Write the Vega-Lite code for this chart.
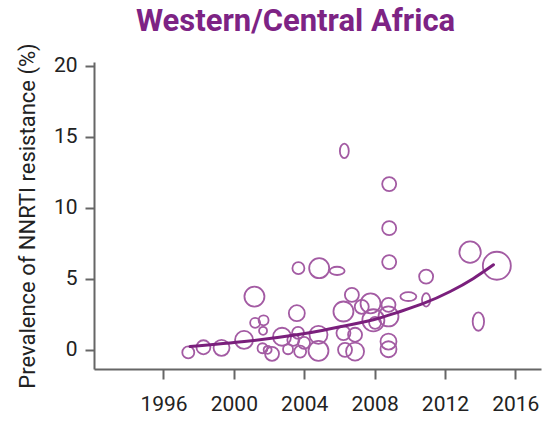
{
  "$schema": "https://vega.github.io/schema/vega-lite/v6.json",
  "width": 447,
  "height": 307,
  "autosize": {"type": "none"},
  "padding": {"left": 94, "top": 62, "right": 1, "bottom": 52},
  "background": "white",
  "title": {
    "text": "Western/Central Africa",
    "font": "Roboto",
    "fontSize": 31,
    "fontWeight": "bold",
    "color": "#7d2384",
    "frame": "group",
    "anchor": "middle",
    "dx": -22,
    "baseline": "alphabetic",
    "offset": -19
  },
  "config": {
    "view": {"stroke": null},
    "axis": {
      "grid": false,
      "domainColor": "#666666",
      "domainWidth": 2,
      "tickColor": "#666666",
      "tickWidth": 2,
      "labelFont": "Roboto",
      "labelFontSize": 21,
      "labelColor": "#222222",
      "titleFont": "Roboto",
      "titleFontSize": 22,
      "titleFontWeight": "normal",
      "titleColor": "#222222"
    }
  },
  "datasets": {
    "studies": [
      {"year": 1997.41, "prevalence": -0.18, "n": 160, "shape": "circle"},
      {"year": 1998.27, "prevalence": 0.18, "n": 218, "shape": "circle"},
      {"year": 1999.30, "prevalence": 0.14, "n": 284, "shape": "circle"},
      {"year": 2000.58, "prevalence": 0.70, "n": 360, "shape": "circle"},
      {"year": 2001.17, "prevalence": 3.75, "n": 444, "shape": "circle"},
      {"year": 2001.21, "prevalence": 1.90, "n": 111, "shape": "circle"},
      {"year": 2001.69, "prevalence": 2.08, "n": 111, "shape": "circle"},
      {"year": 2001.66, "prevalence": 1.34, "n": 71, "shape": "circle"},
      {"year": 2001.63, "prevalence": 0.11, "n": 111, "shape": "circle"},
      {"year": 2001.92, "prevalence": 0.0, "n": 71, "shape": "circle"},
      {"year": 2002.17, "prevalence": -0.28, "n": 218, "shape": "circle"},
      {"year": 2002.74, "prevalence": 0.92, "n": 360, "shape": "circle"},
      {"year": 2003.08, "prevalence": 0.04, "n": 111, "shape": "circle"},
      {"year": 2003.38, "prevalence": 0.70, "n": 160, "shape": "circle"},
      {"year": 2003.58, "prevalence": 2.58, "n": 284, "shape": "circle"},
      {"year": 2003.67, "prevalence": 5.75, "n": 160, "shape": "circle"},
      {"year": 2003.65, "prevalence": 1.20, "n": 160, "shape": "circle"},
      {"year": 2003.77, "prevalence": -0.12, "n": 160, "shape": "circle"},
      {"year": 2003.99, "prevalence": 0.49, "n": 160, "shape": "circle"},
      {"year": 2004.85, "prevalence": 5.75, "n": 444, "shape": "circle"},
      {"year": 2005.87, "prevalence": 5.56, "n": 250, "shape": "wide"},
      {"year": 2004.81, "prevalence": 1.06, "n": 360, "shape": "circle"},
      {"year": 2004.81, "prevalence": -0.07, "n": 444, "shape": "circle"},
      {"year": 2006.28, "prevalence": 14.01, "n": 230, "shape": "tall"},
      {"year": 2006.23, "prevalence": 2.70, "n": 444, "shape": "circle"},
      {"year": 2006.71, "prevalence": 3.87, "n": 218, "shape": "circle"},
      {"year": 2006.23, "prevalence": 1.18, "n": 218, "shape": "circle"},
      {"year": 2006.89, "prevalence": 1.06, "n": 218, "shape": "circle"},
      {"year": 2006.32, "prevalence": 0.0, "n": 218, "shape": "circle"},
      {"year": 2006.89, "prevalence": -0.12, "n": 360, "shape": "circle"},
      {"year": 2007.27, "prevalence": 3.03, "n": 218, "shape": "circle"},
      {"year": 2007.77, "prevalence": 3.27, "n": 444, "shape": "circle"},
      {"year": 2007.93, "prevalence": 2.08, "n": 540, "shape": "circle"},
      {"year": 2008.03, "prevalence": 1.90, "n": 160, "shape": "circle"},
      {"year": 2008.79, "prevalence": 3.17, "n": 218, "shape": "circle"},
      {"year": 2008.79, "prevalence": 2.35, "n": 444, "shape": "circle"},
      {"year": 2008.79, "prevalence": 0.58, "n": 284, "shape": "circle"},
      {"year": 2008.79, "prevalence": 0.04, "n": 284, "shape": "circle"},
      {"year": 2008.83, "prevalence": 6.18, "n": 218, "shape": "circle"},
      {"year": 2008.83, "prevalence": 8.57, "n": 218, "shape": "circle"},
      {"year": 2008.83, "prevalence": 11.67, "n": 218, "shape": "circle"},
      {"year": 2009.92, "prevalence": 3.75, "n": 284, "shape": "wide"},
      {"year": 2010.93, "prevalence": 5.16, "n": 218, "shape": "circle"},
      {"year": 2010.93, "prevalence": 3.52, "n": 200, "shape": "tall"},
      {"year": 2013.43, "prevalence": 6.88, "n": 508, "shape": "circle"},
      {"year": 2014.95, "prevalence": 5.92, "n": 871, "shape": "circle"},
      {"year": 2013.90, "prevalence": 1.99, "n": 376, "shape": "tall"}
    ],
    "trend": [
      {"year": 1997.51, "prevalence": 0.23},
      {"year": 2000.73, "prevalence": 0.60},
      {"year": 2003.58, "prevalence": 1.06},
      {"year": 2005.09, "prevalence": 1.38},
      {"year": 2006.04, "prevalence": 1.62},
      {"year": 2007.93, "prevalence": 2.12},
      {"year": 2009.26, "prevalence": 2.62},
      {"year": 2010.78, "prevalence": 3.27},
      {"year": 2012.30, "prevalence": 4.11},
      {"year": 2013.62, "prevalence": 5.03},
      {"year": 2014.76, "prevalence": 5.99}
    ]
  },
  "layer": [
    {
      "data": {"name": "studies"},
      "mark": {"type": "point", "filled": false, "strokeWidth": 1.8, "color": "#a35ba3", "opacity": 1},
      "encoding": {
        "x": {
          "field": "year", "type": "quantitative",
          "scale": {"domain": [1992.05, 2017.46], "nice": false, "zero": false},
          "axis": {"title": null, "values": [1996, 2000, 2004, 2008, 2012, 2016], "format": "d", "tickSize": 10, "labelPadding": 14}
        },
        "y": {
          "field": "prevalence", "type": "quantitative",
          "scale": {"domain": [-1.35, 20.27], "nice": false, "zero": false},
          "axis": {"title": "Prevalence of NNRTI resistance (%)", "values": [0, 5, 10, 15, 20], "tickSize": 9, "labelPadding": 8, "titlePadding": 14}
        },
        "size": {"field": "n", "type": "quantitative", "scale": {"type": "linear", "domain": [0, 1000], "range": [0, 900]}, "legend": null},
        "shape": {
          "field": "shape", "type": "nominal",
          "scale": {"domain": ["circle", "wide", "tall"], "range": ["circle", "M-1,0A1,0.55 0 1,0 1,0A1,0.55 0 1,0 -1,0Z", "M0,-1A0.62,1 0 1,0 0,1A0.62,1 0 1,0 0,-1Z"]},
          "legend": null
        }
      }
    },
    {
      "data": {"name": "trend"},
      "mark": {"type": "line", "color": "#7a1f7c", "strokeWidth": 3, "interpolate": "natural", "strokeCap": "round"},
      "encoding": {
        "x": {"field": "year", "type": "quantitative"},
        "y": {"field": "prevalence", "type": "quantitative"}
      }
    }
  ]
}
